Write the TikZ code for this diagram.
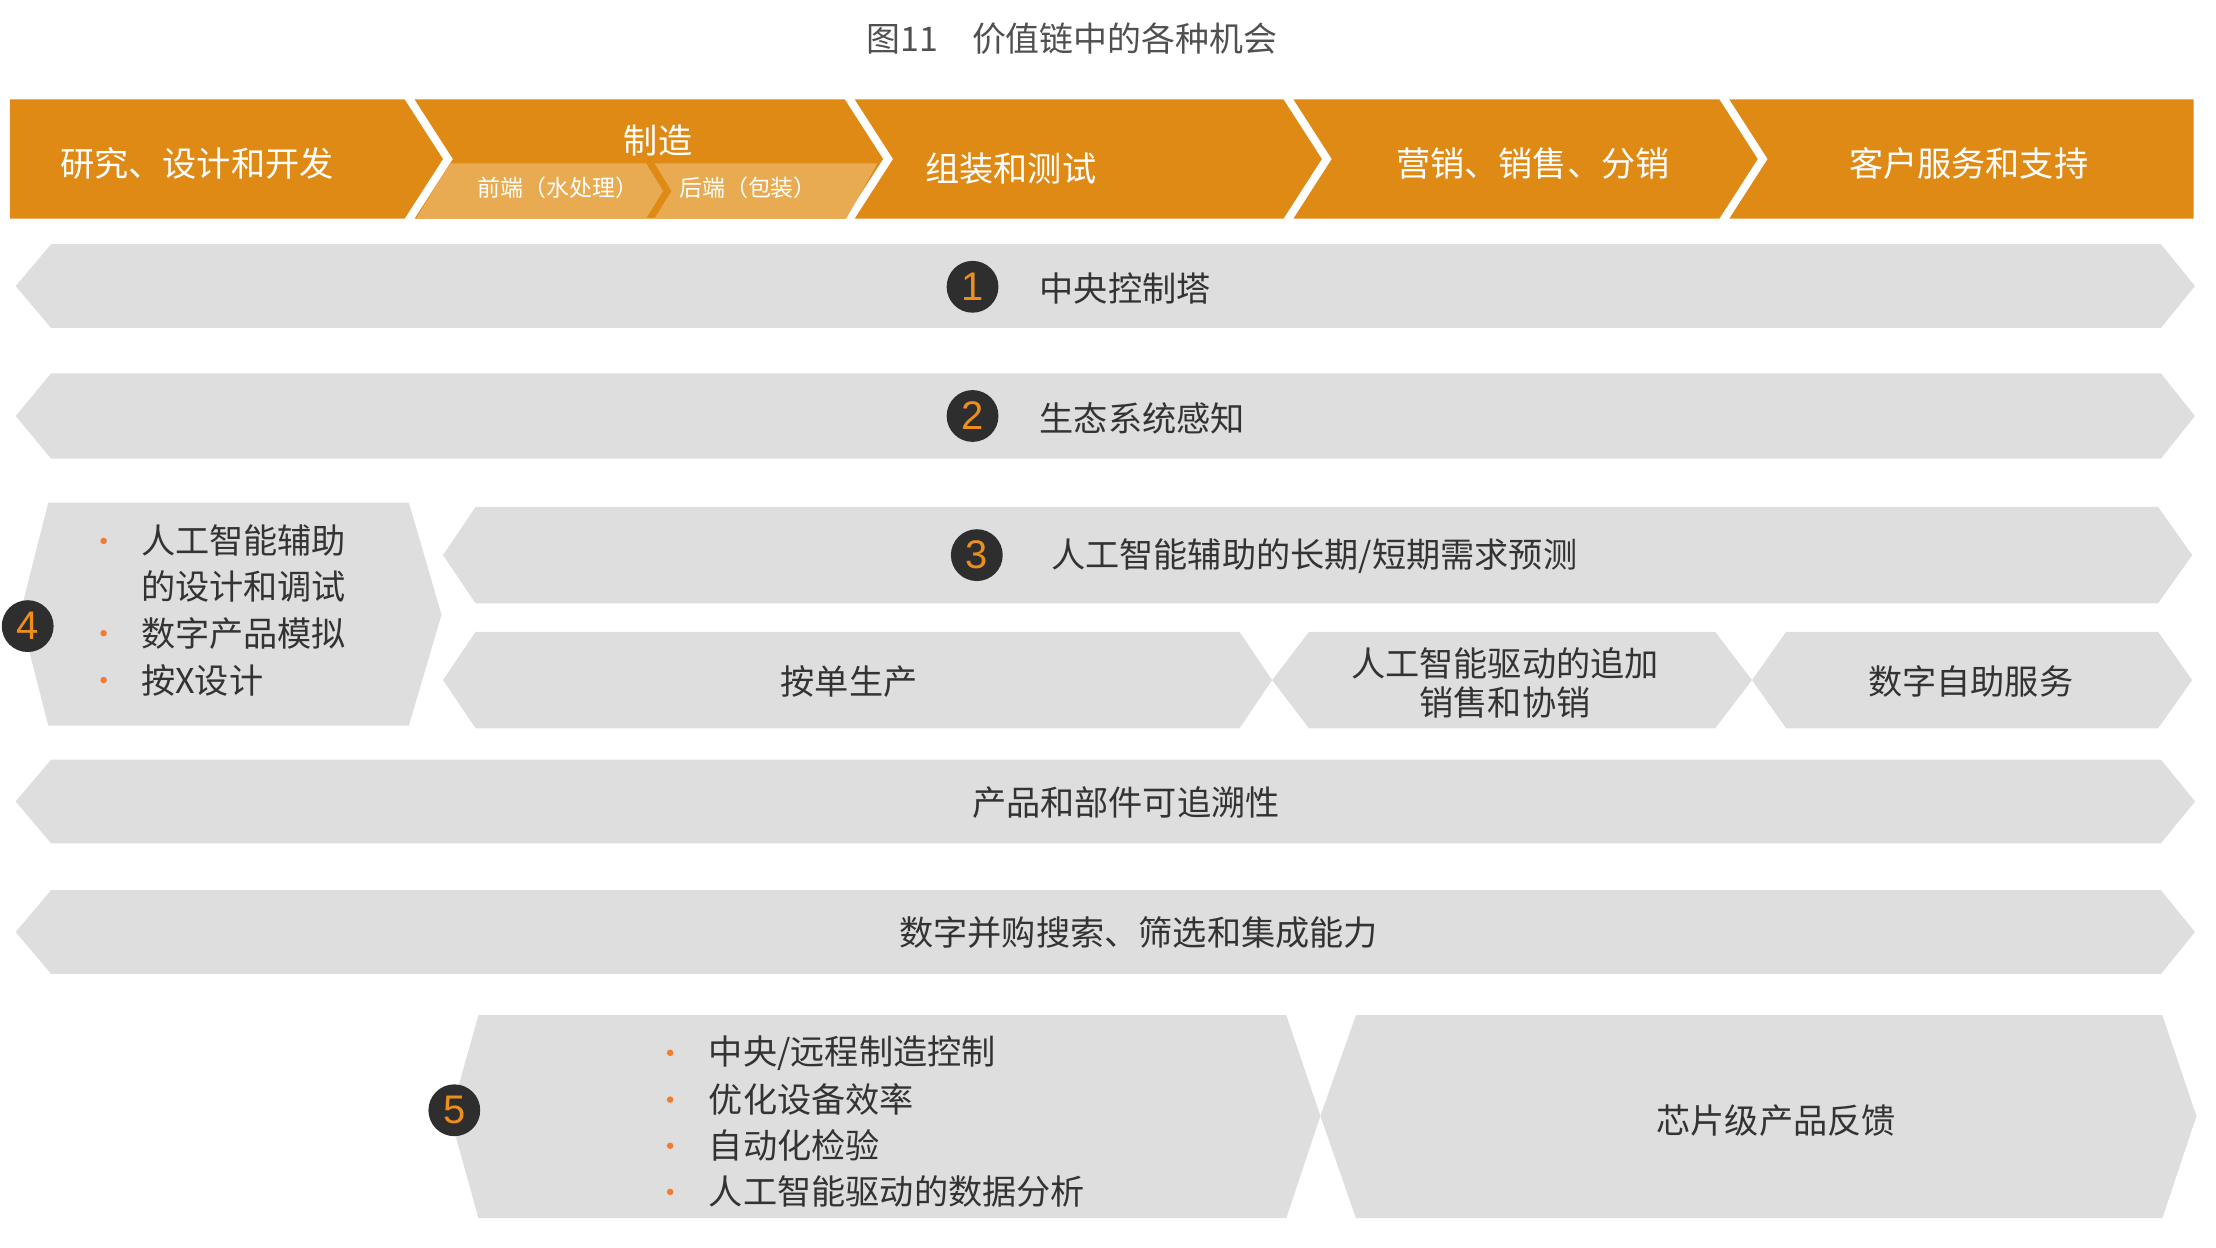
\documentclass[tikz,border=0pt]{standalone}
\usepackage{fontspec}
\setmainfont{Noto Sans CJK SC}
\newfontfamily\numfont{Liberation Sans}
\definecolor{chainorange}{HTML}{E08A16}
\definecolor{chainlight}{HTML}{E9AB52}
\definecolor{bandgray}{HTML}{DEDEDE}
\definecolor{badgegray}{HTML}{2E2E2E}
\definecolor{badgeorange}{HTML}{EE8F1C}
\definecolor{dotorange}{HTML}{F07E2E}
\definecolor{textgray}{HTML}{333333}
\definecolor{titlegray}{HTML}{505050}

\begin{document}
\begin{tikzpicture}[x=0.2mm,y=-0.2mm,
        stage/.style={fill=chainorange},
        substage/.style={fill=chainlight},
        band/.style={fill=bandgray},
        titletext/.style={text=titlegray,inner sep=0pt,font=\fontsize{13.6}{16}\selectfont},
        stagetext/.style={text=white,inner sep=0pt,font=\fontsize{13.7}{16}\selectfont},
        subtext/.style={text=white,inner sep=0pt,font=\fontsize{9.2}{11}\selectfont},
        bandtext/.style={text=textgray,inner sep=0pt,font=\fontsize{13.7}{15.4}\selectfont},
        badge/.style={circle,fill=badgegray,text=badgeorange,minimum size=7.3mm,inner sep=0pt,
            font=\numfont\fontsize{16}{16}\selectfont},
        bulletdot/.style={dotorange}]
    \useasboundingbox (0,0) rectangle (1560.8,879);

    % title
    \node[titletext] (title) at (755,27) {图11\quad 价值链中的各种机会};

    % value chain header
    \fill[stage] (7,70) -- (285,70) -- (312,112) -- (285,154) -- (7,154) -- cycle;
    \fill[stage] (292,70) -- (595,70) -- (622,112) -- (595,154) -- (292,154) -- (319,112) -- cycle;
    \fill[stage] (602,70) -- (904,70) -- (931,112) -- (904,154) -- (602,154) -- (629,112) -- cycle;
    \fill[stage] (911,70) -- (1211,70) -- (1238,112) -- (1211,154) -- (911,154) -- (938,112) -- cycle;
    \fill[stage] (1218,70) -- (1545,70) -- (1545,154) -- (1218,154) -- (1245,112) -- cycle;
    \fill[substage] (317,115) -- (455,115) -- (467,134.5) -- (455,154) -- (293,154) -- cycle;
    \fill[substage] (461,115) -- (618,115) -- (596,154) -- (461,154) -- (473,134.5) -- cycle;

    \node[stagetext, anchor=west] (rd) at (42,115) {研究、设计和开发};
    \node[stagetext] (mfg) at (463.5,99) {制造};
    \node[subtext, anchor=west] (front) at (336,132.5) {前端（水处理）};
    \node[subtext, anchor=west] (back) at (478,132.5) {后端（包装）};
    \node[stagetext] (asm) at (712,119) {组装和测试};
    \node[stagetext, anchor=west] (mkt) at (983,115) {营销、销售、分销};
    \node[stagetext, anchor=west] (svc) at (1302,115) {客户服务和支持};

    % full-width bands
    \fill[band] (36,172) -- (1522,172) -- (1546,201.5) -- (1522,231) -- (36,231) -- (11,201.5) -- cycle;
    \fill[band] (36,263) -- (1522,263) -- (1546,293) -- (1522,323) -- (36,323) -- (11,293) -- cycle;
    \fill[band] (36,535) -- (1522,535) -- (1546,564.5) -- (1522,594) -- (36,594) -- (11,564.5) -- cycle;
    \fill[band] (36,627) -- (1522,627) -- (1546,656.5) -- (1522,686) -- (36,686) -- (11,656.5) -- cycle;

    % middle block
    \fill[band] (34,354) -- (288,354) -- (311,433) -- (288,511) -- (34,511) -- (14,433) -- cycle;
    \fill[band] (335,357) -- (1520,357) -- (1544,391) -- (1520,425) -- (335,425) -- (312,391) -- cycle;
    \fill[band] (335,445) -- (873,445) -- (896,479) -- (873,513) -- (335,513) -- (312,479) -- cycle;
    \fill[band] (922,445) -- (1208,445) -- (1234,479) -- (1208,513) -- (922,513) -- (896,479) -- cycle;
    \fill[band] (1258,445) -- (1520,445) -- (1544,479) -- (1520,513) -- (1258,513) -- (1234,479) -- cycle;

    % bottom block
    \fill[band] (337,715) -- (906,715) -- (930,786) -- (906,858) -- (337,858) -- (317,786) -- cycle;
    \fill[band] (955,715) -- (1523,715) -- (1547,786) -- (1523,858) -- (955,858) -- (930,786) -- cycle;

    % numbered badges
    \node[badge] (n1) at (685,202) {1};
    \node[badge] (n2) at (685,293) {2};
    \node[badge] (n3) at (688,391) {3};
    \node[badge] (n4) at (19.5,441) {4};
    \node[badge] (n5) at (320,782) {5};

    % band labels
    \node[bandtext, anchor=west] (tower) at (732,203) {中央控制塔};
    \node[bandtext, anchor=west] (sensing) at (732,295) {生态系统感知};
    \node[bandtext, anchor=west] (forecast) at (740,392) {人工智能辅助的长期/短期需求预测};
    \node[bandtext] (order) at (598,480) {按单生产};
    \node[bandtext, align=center] (upsell) at (1060,481) {人工智能驱动的追加\\销售和协销};
    \node[bandtext] (selfsvc) at (1388,480) {数字自助服务};
    \node[bandtext] (trace) at (793,565) {产品和部件可追溯性};
    \node[bandtext] (mna) at (802,657) {数字并购搜索、筛选和集成能力};
    \node[bandtext] (chip) at (1251,789) {芯片级产品反馈};

    % design list
    \node[bandtext, anchor=west] (des1) at (99,381) {人工智能辅助};
    \node[bandtext, anchor=west] (des2) at (99,413) {的设计和调试};
    \node[bandtext, anchor=west] (des3) at (99,446) {数字产品模拟};
    \node[bandtext, anchor=west] (des4) at (99,479) {按X设计};
    \fill[bulletdot] (73,381) circle (2.3);
    \fill[bulletdot] (73,446) circle (2.3);
    \fill[bulletdot] (73,479) circle (2.3);

    % manufacturing list
    \node[bandtext, anchor=west] (man1) at (499,741.5) {中央/远程制造控制};
    \node[bandtext, anchor=west] (man2) at (499,774.5) {优化设备效率};
    \node[bandtext, anchor=west] (man3) at (499,807) {自动化检验};
    \node[bandtext, anchor=west] (man4) at (499,839.5) {人工智能驱动的数据分析};
    \fill[bulletdot] (472,741.5) circle (2.3);
    \fill[bulletdot] (472,774.5) circle (2.3);
    \fill[bulletdot] (472,807) circle (2.3);
    \fill[bulletdot] (472,839.5) circle (2.3);
\end{tikzpicture}
\end{document}
